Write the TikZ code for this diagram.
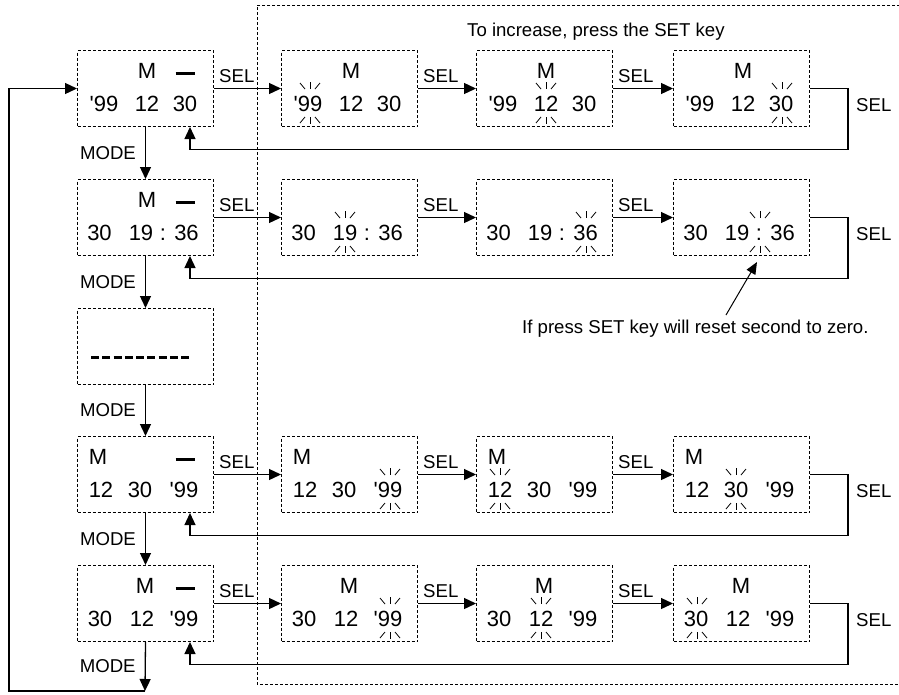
\documentclass[tikz,border=0pt]{standalone}
\usepackage{fontspec}
\setmainfont{Liberation Sans}
\newfontfamily\digfont{Liberation Sans}
\usetikzlibrary{arrows.meta,calc}
\tikzset{
  box/.style={draw, line width=1pt, dash pattern=on 3pt off 2pt, minimum width=136pt, minimum height=76pt, inner sep=0pt, anchor=north west},
  frame/.style={draw, line width=1pt, dash pattern=on 3pt off 2pt},
  dig/.style={inner sep=0pt, anchor=base, font=\digfont\fontsize{22}{22}\selectfont},
  lbl/.style={inner sep=0pt, font=\fontsize{18.6}{18.6}\selectfont},
  arr/.style={line width=1.3pt, -{Triangle[length=12pt,width=11pt]}},
  conn/.style={line width=1.3pt},
  ray/.style={line width=0.8pt},
  lcdbar/.style={line width=3pt},
  blink/.pic={
    \draw[ray] (-10,-21) -- (-5,-15);
    \draw[ray] (0,-22) -- (0,-15);
    \draw[ray] (10,-21) -- (5,-15);
    \draw[ray] (-5,13) -- (-10,19);
    \draw[ray] (0,13) -- (0,20);
    \draw[ray] (5,13) -- (10,19);
  }
}
\newcommand\yy{'99}
% M letter, lcd bar, digit text, blink marks
\newcommand\mtxt[2]{\node[dig] (#1-m) at ($(#1.north west)+(#2,28)$) {M};}
\newcommand\mbar[1]{\draw[lcdbar] ($(#1.north west)+(98.5,23)$) -- ++(19,0);}
\newcommand\dtxt[4]{\node[dig] (#1-#2) at ($(#1.north west)+(#3,61.5)$) {#4};}
\newcommand\blinkat[2]{\pic at ($(#1.north west)+(#2,54)$) {blink};}
\begin{document}
\begin{tikzpicture}[x=1pt,y=-1pt]
\useasboundingbox (0,0) rectangle (899,694);
% big dotted frame
\draw[frame] (905,5) -- (257,5) -- (257,684) -- (905,684);
\node[lbl, anchor=base west] (title) at (467,36) {To increase, press the SET key};

% ---------- row 1
\node[box] (b11) at (77,50) {};
\node[box] (b12) at (281,50) {};
\node[box] (b13) at (476,50) {};
\node[box] (b14) at (673,50) {};
\foreach \b in {b11,b12,b13,b14}{
  \mtxt{\b}{70}
  \dtxt{\b}{a}{27}{\yy}
  \dtxt{\b}{b}{70}{12}
  \dtxt{\b}{c}{108}{30}
}
\mbar{b11}
\blinkat{b12}{29}
\blinkat{b13}{70}
\blinkat{b14}{109}

% ---------- row 2
\node[box] (b21) at (77,179) {};
\node[box] (b22) at (281,179) {};
\node[box] (b23) at (476,179) {};
\node[box] (b24) at (673,179) {};
\mtxt{b21}{70}
\mbar{b21}
\foreach \b in {b21,b22,b23,b24}{
  \dtxt{\b}{a}{22.5}{30}
  \dtxt{\b}{b}{64}{19}
  \dtxt{\b}{c}{86}{:}
  \dtxt{\b}{d}{109.5}{36}
}
\blinkat{b22}{64}
\blinkat{b23}{110}
\blinkat{b24}{87}

% ---------- row 3
\node[box] (b3) at (77,308) {};
\draw[line width=3pt, dash pattern=on 8pt off 3.25pt] ($(b3.north west)+(14,49)$) -- ++(98,0);

% ---------- row 4
\node[box] (b41) at (77,436) {};
\node[box] (b42) at (281,436) {};
\node[box] (b43) at (476,436) {};
\node[box] (b44) at (673,436) {};
\foreach \b in {b41,b42,b43,b44}{
  \mtxt{\b}{21}
  \dtxt{\b}{a}{24}{12}
  \dtxt{\b}{b}{63}{30}
  \dtxt{\b}{c}{107}{\yy}
}
\mbar{b41}
\blinkat{b42}{109}
\blinkat{b43}{24}
\blinkat{b44}{63}

% ---------- row 5
\node[box] (b51) at (77,565) {};
\node[box] (b52) at (281,565) {};
\node[box] (b53) at (476,565) {};
\node[box] (b54) at (673,565) {};
\foreach \b in {b51,b52,b53,b54}{
  \mtxt{\b}{68}
  \dtxt{\b}{a}{23}{30}
  \dtxt{\b}{b}{65}{12}
  \dtxt{\b}{c}{107}{\yy}
}
\mbar{b51}
\blinkat{b52}{109}
\blinkat{b53}{65}
\blinkat{b54}{24}

% ---------- SEL connectors and return loops
\foreach \r in {1,2,4,5}{
  \draw[arr] (b\r1.east) -- (b\r2.west);
  \draw[arr] (b\r2.east) -- (b\r3.west);
  \draw[arr] (b\r3.east) -- (b\r4.west);
  \node[lbl, anchor=south west] (s\r1) at ($(b\r1.east)+(5,-6)$) {SEL};
  \node[lbl, anchor=south west] (s\r2) at ($(b\r2.east)+(5,-6)$) {SEL};
  \node[lbl, anchor=south west] (s\r3) at ($(b\r3.east)+(5,-6)$) {SEL};
  \coordinate (rr\r) at ($(b\r4.east)+(38,61)$);
  \coordinate (tr\r) at ($(b\r1.south west)+(113,0)$);
  \draw[arr] (b\r4.east) -| (rr\r) -| (tr\r);
  \node[lbl, anchor=west] (rs\r) at ($(b\r4.east)+(46,17)$) {SEL};
}

% ---------- MODE connectors
\coordinate (bot) at (145,691);
\coordinate (lc) at (9,691);
\draw[arr] (b11.south) -- node[lbl, anchor=east, xshift=-9pt] (m1) {MODE} (b21.north);
\draw[arr] (b21.south) -- node[lbl, anchor=east, xshift=-9pt] (m2) {MODE} (b3.north);
\draw[arr] (b3.south) -- node[lbl, anchor=east, xshift=-9pt] (m3) {MODE} (b41.north);
\draw[arr] (b41.south) -- node[lbl, anchor=east, xshift=-9pt] (m4) {MODE} (b51.north);
\draw[arr] (b51.south) -- node[lbl, anchor=east, xshift=-9pt] (m5) {MODE} (bot);
\draw[arr] (bot) -- (lc) |- (b11.west);

% ---------- annotation
\node[lbl, anchor=base west] (note) at (522,333) {If press SET key will reset second to zero.};
\coordinate (ann0) at (726,315);
\coordinate (ann1) at (757,262);
\draw[line width=1pt, -{Triangle[length=12pt,width=10pt]}] (ann0) -- (ann1);
\end{tikzpicture}
\end{document}
